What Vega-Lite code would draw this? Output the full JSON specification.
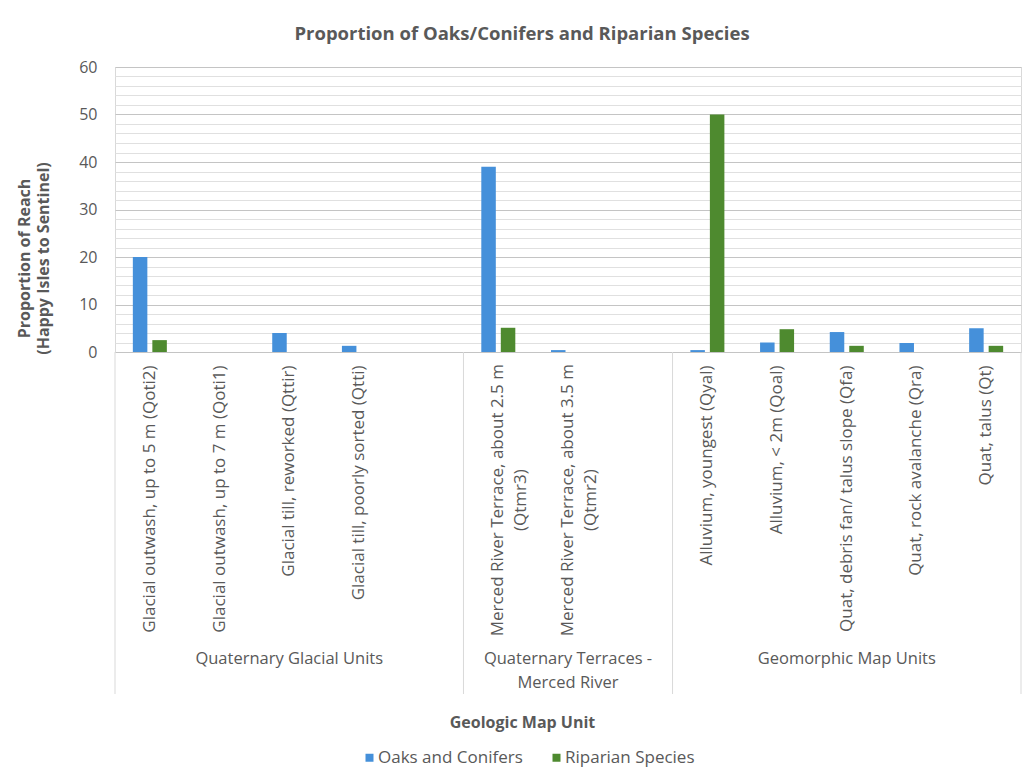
{
  "$schema": "https://vega.github.io/schema/vega-lite/v6.json",
  "width": 906,
  "height": 285,
  "autosize": {"type": "none"},
  "padding": {"left": 115, "top": 67, "right": 12, "bottom": 428},
  "background": "white",
  "title": {
    "text": "Proportion of Oaks/Conifers and Riparian Species",
    "anchor": "middle",
    "dx": -46,
    "offset": 16,
    "font": "Open Sans",
    "fontSize": 18.5,
    "fontWeight": "bold",
    "color": "#595959"
  },
  "config": {
    "font": "Open Sans",
    "view": {"stroke": "#d9d9d9", "strokeWidth": 1}
  },
  "datasets": {
    "bars": [
      {"unit": "Glacial outwash, up to 5 m (Qoti2)", "series": "Oaks and Conifers", "value": 20},
      {"unit": "Glacial outwash, up to 5 m (Qoti2)", "series": "Riparian Species", "value": 2.5},
      {"unit": "Glacial till, reworked (Qttir)", "series": "Oaks and Conifers", "value": 4},
      {"unit": "Glacial till, poorly sorted (Qtti)", "series": "Oaks and Conifers", "value": 1.3},
      {"unit": "Merced River Terrace, about 2.5 m (Qtmr3)", "series": "Oaks and Conifers", "value": 39},
      {"unit": "Merced River Terrace, about 2.5 m (Qtmr3)", "series": "Riparian Species", "value": 5.1},
      {"unit": "Merced River Terrace, about 3.5 m (Qtmr2)", "series": "Oaks and Conifers", "value": 0.4},
      {"unit": "Alluvium, youngest (Qyal)", "series": "Oaks and Conifers", "value": 0.4},
      {"unit": "Alluvium, youngest (Qyal)", "series": "Riparian Species", "value": 50},
      {"unit": "Alluvium, < 2m (Qoal)", "series": "Oaks and Conifers", "value": 2},
      {"unit": "Alluvium, < 2m (Qoal)", "series": "Riparian Species", "value": 4.8},
      {"unit": "Quat, debris fan/ talus slope (Qfa)", "series": "Oaks and Conifers", "value": 4.2},
      {"unit": "Quat, debris fan/ talus slope (Qfa)", "series": "Riparian Species", "value": 1.3},
      {"unit": "Quat, rock avalanche (Qra)", "series": "Oaks and Conifers", "value": 1.9},
      {"unit": "Quat, talus (Qt)", "series": "Oaks and Conifers", "value": 5},
      {"unit": "Quat, talus (Qt)", "series": "Riparian Species", "value": 1.3}
    ],
    "wrappedUnits": [
      {"unit": "Merced River Terrace, about 2.5 m (Qtmr3)", "label": "Merced River Terrace, about 2.5 m\n(Qtmr3)"},
      {"unit": "Merced River Terrace, about 3.5 m (Qtmr2)", "label": "Merced River Terrace, about 3.5 m\n(Qtmr2)"}
    ],
    "groups": [
      {"unit": "Glacial till, reworked (Qttir)", "label": "Quaternary Glacial Units"},
      {"unit": "Merced River Terrace, about 3.5 m (Qtmr2)", "label": "Quaternary Terraces -\nMerced River"},
      {"unit": "Quat, debris fan/ talus slope (Qfa)", "label": "Geomorphic Map Units"}
    ],
    "groupStarts": [
      {"unit": "Glacial outwash, up to 5 m (Qoti2)"},
      {"unit": "Merced River Terrace, about 2.5 m (Qtmr3)"},
      {"unit": "Alluvium, youngest (Qyal)"}
    ],
    "groupEnd": [
      {"unit": "Quat, talus (Qt)"}
    ]
  },
  "layer": [
    {
      "data": {"name": "bars"},
      "mark": {"type": "bar"},
      "encoding": {
        "x": {
          "field": "unit",
          "type": "nominal",
          "scale": {
            "domain": [
              "Glacial outwash, up to 5 m (Qoti2)",
              "Glacial outwash, up to 7 m (Qoti1)",
              "Glacial till, reworked (Qttir)",
              "Glacial till, poorly sorted (Qtti)",
              " ",
              "Merced River Terrace, about 2.5 m (Qtmr3)",
              "Merced River Terrace, about 3.5 m (Qtmr2)",
              "  ",
              "Alluvium, youngest (Qyal)",
              "Alluvium, < 2m (Qoal)",
              "Quat, debris fan/ talus slope (Qfa)",
              "Quat, rock avalanche (Qra)",
              "Quat, talus (Qt)"
            ],
            "paddingInner": 0,
            "paddingOuter": 0
          },
          "axis": {
            "title": "Geologic Map Unit",
            "titleFontSize": 16,
            "titleFontWeight": "bold",
            "titleColor": "#595959",
            "titleX": 407,
            "titleY": 370,
            "titleAlign": "center",
            "titleBaseline": "middle",
            "labelAngle": -90,
            "labelAlign": "right",
            "labelBaseline": "middle",
            "labelPadding": 13,
            "labelFontSize": 17,
            "labelColor": "#595959",
            "labelLimit": 500,
            "labelOverlap": false,
            "labelExpr": "indexof(datum.label, 'Merced') === 0 ? '' : datum.label",
            "ticks": false,
            "tickSize": 0,
            "domain": false,
            "grid": false
          }
        },
        "xOffset": {
          "field": "series",
          "type": "nominal",
          "scale": {"domain": ["Oaks and Conifers", "Riparian Species"], "paddingInner": 0.256, "paddingOuter": 0.915}
        },
        "y": {
          "field": "value",
          "type": "quantitative",
          "scale": {"domain": [0, 60], "nice": false},
          "axis": {
            "title": ["Proportion of Reach", "(Happy Isles to Sentinel)"],
            "titleFontSize": 16,
            "titleFontWeight": "bold",
            "titleColor": "#595959",
            "titleAngle": -90,
            "titleAlign": "center",
            "titleBaseline": "bottom",
            "titleLineHeight": 19,
            "titleX": -83,
            "titleY": 191,
            "values": [0, 2, 4, 6, 8, 10, 12, 14, 16, 18, 20, 22, 24, 26, 28, 30, 32, 34, 36, 38, 40, 42, 44, 46, 48, 50, 52, 54, 56, 58, 60],
            "tickCount": 40,
            "labelExpr": "datum.value % 10 === 0 ? datum.label : ''",
            "labelOverlap": false,
            "labelFontSize": 16,
            "labelColor": "#595959",
            "labelPadding": 18,
            "ticks": false,
            "tickSize": 0,
            "domain": false,
            "grid": true,
            "gridColor": {"condition": {"test": "datum.value % 10 === 0", "value": "#c4c4c4"}, "value": "#e0e0e0"},
            "gridWidth": 1
          }
        },
        "color": {
          "field": "series",
          "type": "nominal",
          "scale": {"domain": ["Oaks and Conifers", "Riparian Species"], "range": ["#4590da", "#4e8a2f"]},
          "legend": {
            "orient": "none",
            "direction": "horizontal",
            "legendX": 246,
            "legendY": 682,
            "title": null,
            "padding": 0,
            "symbolType": "square",
            "symbolSize": 64,
            "symbolStrokeWidth": 0,
            "labelFontSize": 17,
            "labelColor": "#595959",
            "labelOffset": 0,
            "columnPadding": 25
          }
        }
      }
    },
    {
      "data": {"name": "wrappedUnits"},
      "mark": {
        "type": "text",
        "angle": 270,
        "align": "center",
        "baseline": "middle",
        "lineBreak": "\n",
        "lineHeight": 23,
        "fontSize": 17,
        "color": "#595959"
      },
      "encoding": {
        "x": {"field": "unit", "type": "nominal"},
        "y": {"datum": -31.2},
        "text": {"field": "label"}
      }
    },
    {
      "data": {"name": "groupStarts"},
      "mark": {"type": "rule", "color": "#d9d9d9", "strokeWidth": 1},
      "encoding": {
        "x": {"field": "unit", "type": "nominal", "bandPosition": 0},
        "y": {"datum": 0},
        "y2": {"datum": -72}
      }
    },
    {
      "data": {"name": "groupEnd"},
      "mark": {"type": "rule", "color": "#d9d9d9", "strokeWidth": 1},
      "encoding": {
        "x": {"field": "unit", "type": "nominal", "bandPosition": 1},
        "y": {"datum": 0},
        "y2": {"datum": -72}
      }
    },
    {
      "data": {"name": "groups"},
      "mark": {
        "type": "text",
        "align": "center",
        "baseline": "top",
        "lineBreak": "\n",
        "lineHeight": 24,
        "fontSize": 16.5,
        "color": "#595959"
      },
      "encoding": {
        "x": {"field": "unit", "type": "nominal"},
        "y": {"datum": -63},
        "text": {"field": "label"}
      }
    }
  ]
}
